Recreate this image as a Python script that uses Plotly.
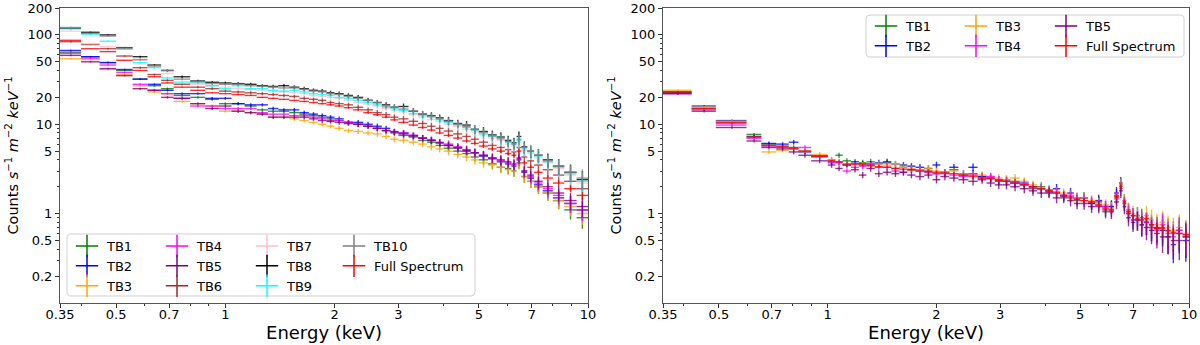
import plotly.graph_objects as go
from plotly.subplots import make_subplots

# ---- left panel: TB1..TB10 + full spectrum ----
edges_left = [0.35, 0.40, 0.45, 0.50, 0.555, 0.61, 0.665, 0.72, 0.80, 0.88, 0.96, 1.04, 1.13,
              1.22, 1.31, 1.40, 1.50, 1.60, 1.70, 1.80, 1.90, 2.00, 2.12, 2.25, 2.40, 2.55,
              2.70, 2.85, 3.00, 3.20, 3.40, 3.60, 3.80, 4.00, 4.25, 4.50, 4.75, 5.00, 5.30,
              5.60, 5.90, 6.15, 6.35, 6.55, 6.80, 7.10, 7.50, 8.00, 8.60, 9.30, 10.0]

tb1_left = [64, 57, 49, 40, 32, 27, 25, 21, 20, 19, 17, 17, 16, 14.5, 14, 14, 13.5, 13, 12.5, 12,
            11.5, 11, 10.5, 10, 9.5, 9, 8.5, 8, 7.5, 7.2, 6.6, 6.3, 5.8, 5.4, 5, 4.7, 4.3, 4.0,
            3.6, 3.3, 3.2, 3.0, 3.7, 2.6, 2.3, 2.0, 1.7, 1.4, 1.1, 0.9]
tb2_left = [67, 57, 49, 41, 32, 28, 24, 22, 22, 19.5, 19.5, 17, 16.5, 16.5, 15, 14.5, 14.5, 13.5,
            13, 12.5, 12, 11.5, 10.5, 10.5, 10, 9.5, 9, 8.3, 8, 7.5, 7, 6.6, 6.2, 5.8, 5.5, 5.0,
            4.8, 4.4, 4.1, 3.8, 3.6, 3.4, 4.0, 2.9, 2.5, 2.1, 1.8, 1.5, 1.3, 1.1]
tb3_left = [54, 53, 41, 36, 27, 23, 22, 18, 17, 16, 14, 14, 13.5, 13, 12, 12, 11.5, 11, 10.5, 10,
            9.5, 9, 8.5, 8.3, 8, 7.8, 7.3, 6.8, 6.6, 6.3, 6, 5.6, 5.3, 5, 4.6, 4.3, 4, 3.7, 3.5,
            3.3, 3.1, 3.0, 3.6, 2.6, 2.3, 2.0, 1.7, 1.4, 1.2, 1.0]
tb4_left = [62, 55, 46, 38, 28, 24, 22, 19.5, 16, 16, 15, 15, 15, 13.5, 13, 13, 12.5, 12.5, 12,
            11.5, 11, 11, 10.5, 10, 9.5, 9, 8.5, 8.2, 8, 7.5, 7, 6.7, 6.3, 6, 5.6, 5.2, 4.8, 4.5,
            4.2, 3.9, 3.7, 3.5, 4.1, 3.0, 2.6, 2.2, 1.9, 1.6, 1.3, 1.1]
tb5_left = [59, 50, 42, 35, 25, 24, 20, 19.5, 17, 15, 16, 14, 13.5, 13, 12, 12, 12, 12, 11.5, 11,
            10.8, 10.5, 10.2, 10, 9.5, 9, 8.5, 8.2, 7.8, 7.4, 7, 6.6, 6.2, 5.8, 5.4, 5.1, 4.8,
            4.5, 4.2, 4, 3.8, 3.6, 4.2, 3.0, 2.7, 2.3, 2.0, 1.7, 1.4, 1.2]
tb6_left = [84, 78, 70, 58, 43, 36, 31, 28, 26, 25, 23.5, 23, 22.5, 22, 21.5, 21, 20.5, 19.5, 19,
            18.5, 17.5, 17, 16.5, 15.5, 14.5, 13.5, 12.8, 12, 11.5, 10.8, 10.2, 9.5, 9, 8.4,
            7.8, 7.3, 6.8, 6.3, 5.8, 5.5, 5.2, 4.9, 5.5, 4.3, 3.9, 3.5, 3.1, 2.7, 2.3, 1.9]
tb7_left = [110, 80, 74, 70, 52, 44, 37, 30, 28, 27, 26, 25, 24.5, 24, 23.5, 23, 22.5, 22, 21,
            20.5, 20, 19.5, 18.5, 17.5, 16.8, 16, 15, 14.3, 13.8, 12.8, 12, 11.3, 10.7, 10, 9.5,
            8.8, 8.2, 7.6, 7, 6.6, 6, 5.7, 6.3, 5.1, 4.7, 4.2, 3.7, 3.2, 2.7, 2.2]
tb8_left = [118, 107, 100, 72, 57, 46, 40, 34, 30.5, 29.5, 29, 28.5, 28, 27, 26.5, 27, 26, 25,
            24, 23.5, 22.5, 22, 21, 20, 18.5, 17.5, 16.5, 15.5, 15.8, 14, 13, 12.5, 11.8, 11,
            10.2, 9.8, 8.8, 8.3, 7.6, 7.2, 6.6, 6.2, 7.3, 5.6, 5.0, 4.5, 4.0, 3.4, 2.9, 2.4]
tb9_left = [120, 102, 85, 69, 49, 43, 33, 29, 29, 27, 25, 27, 25, 25, 24, 23.5, 24, 23, 22, 21.5,
            21, 20, 19.5, 18.5, 17.5, 16.5, 15.5, 15, 14.3, 13.2, 12.5, 12, 11.2, 10.5, 9.8, 9.2,
            8.6, 7.8, 7.3, 6.8, 6.3, 5.9, 6.6, 5.3, 4.9, 4.4, 3.8, 3.3, 2.8, 2.3]
tb10_left = [121, 104, 97, 71, 53, 45, 40, 32, 30, 28.5, 28, 28, 27, 26.5, 26, 25.5, 25.5, 24.5,
             23.5, 23, 22, 21.5, 20.5, 19.5, 18.5, 17.5, 16, 15.5, 14.8, 14, 13, 12.3, 11.5,
             10.8, 10, 9.4, 8.7, 8.1, 7.4, 7, 6.4, 6.0, 6.8, 5.5, 5.0, 4.5, 3.9, 3.4, 2.9, 2.5]
full_left = [87, 70, 65, 52, 40, 34, 29, 26, 24, 22.5, 22, 21.5, 21, 20, 19.5, 19, 18.5, 18,
             17.5, 17, 16.5, 16, 15.3, 14.5, 13.5, 12.8, 12, 11.2, 10.5, 9.8, 9.2, 8.6, 8, 7.5,
             7, 6.5, 6.1, 5.7, 5.3, 5.0, 4.7, 4.5, 5.0, 3.7, 3.3, 2.9, 2.5, 2.2, 1.9, 1.6]
# relative 1-sigma errors per bin
rel_err_left = [0.02, 0.02, 0.02, 0.02, 0.025, 0.025, 0.03, 0.03, 0.03, 0.035, 0.035, 0.04, 0.04,
                0.04, 0.045, 0.045, 0.05, 0.05, 0.05, 0.055, 0.055, 0.06, 0.06, 0.065, 0.065,
                0.07, 0.07, 0.075, 0.08, 0.08, 0.085, 0.09, 0.09, 0.1, 0.1, 0.11, 0.11, 0.12,
                0.12, 0.13, 0.13, 0.14, 0.14, 0.15, 0.16, 0.17, 0.18, 0.2, 0.22, 0.25]

# ---- right panel: TB1..TB5 + full spectrum ----
edges_right = [0.35, 0.42, 0.49, 0.596, 0.655, 0.72, 0.78, 0.83, 0.90, 1.0, 1.05, 1.1, 1.16, 1.22,
               1.28, 1.35, 1.42, 1.5, 1.58, 1.66, 1.75, 1.85, 1.95, 2.05, 2.17, 2.3, 2.45, 2.6,
               2.75, 2.9, 3.05, 3.2, 3.4, 3.6, 3.8, 4.0, 4.2, 4.4, 4.6, 4.8, 5.0, 5.25, 5.5,
               5.75, 6.0, 6.2, 6.4, 6.55, 6.7, 6.9, 7.1, 7.3, 7.5, 7.75, 8.0, 8.3, 8.6, 8.9, 9.2,
               9.6, 10.0]

tb1_right = [22.5, 15, 10.3, 7.7, 6.0, 5.7, 5.5, 5.0, 4.4, 4.0, 4.5, 3.9, 3.6, 3.7, 3.8, 3.6,
             3.7, 3.2, 3.3, 3.1, 3.1, 3.0, 2.8, 2.9, 3.1, 2.7, 2.8, 2.6, 2.5, 2.3, 2.4, 2.3, 2.1,
             1.9, 2.0, 1.8, 1.75, 1.5, 1.6, 1.4, 1.5, 1.3, 1.35, 1.05, 1.2, 1.6, 2.1, 1.3, 1.1,
             0.95, 0.85, 0.9, 0.8, 0.75, 0.68, 0.7, 0.65, 0.6, 0.65, 0.55]
tb2_right = [23, 16, 11, 7.3, 6.1, 6.0, 6.3, 4.9, 4.4, 3.8, 3.8, 3.6, 3.8, 3.6, 3.6, 3.7, 3.8,
             3.6, 3.5, 3.4, 3.3, 3.2, 3.5, 2.9, 3.3, 2.8, 3.3, 2.6, 2.5, 2.4, 2.3, 2.2, 2.2, 2.0,
             1.9, 1.7, 1.9, 1.6, 1.7, 1.5, 1.5, 1.3, 1.4, 1.2, 1.2, 1.7, 2.2, 1.4, 1.0, 0.85,
             0.95, 0.75, 0.8, 0.7, 0.7, 0.65, 0.55, 0.45, 0.6, 0.5]
tb3_right = [24, 15.5, 10.8, 7.0, 4.9, 5.1, 5.3, 5.0, 4.6, 4.0, 3.8, 3.6, 3.5, 3.5, 3.4, 3.6,
             3.5, 3.6, 3.3, 3.2, 3.1, 3.2, 3.0, 2.9, 3.0, 2.8, 2.7, 2.7, 2.6, 2.5, 2.4, 2.5, 2.3,
             2.1, 1.95, 1.8, 1.75, 1.7, 1.6, 1.5, 1.5, 1.4, 1.3, 1.25, 1.15, 1.45, 2.1, 1.4, 1.1,
             1.0, 0.95, 0.85, 0.95, 0.85, 0.75, 0.8, 0.7, 0.65, 0.7, 0.6]
tb4_right = [22, 14.5, 9.8, 7.0, 5.7, 5.5, 5.3, 5.5, 4.3, 3.7, 3.7, 3.0, 3.3, 3.4, 3.5, 3.3,
             3.3, 3.0, 2.9, 3.1, 3.0, 2.9, 2.8, 2.8, 2.7, 2.6, 2.7, 2.5, 2.6, 2.4, 2.3, 2.2, 2.1,
             1.95, 1.9, 1.85, 1.7, 1.6, 1.55, 1.45, 1.4, 1.35, 1.25, 1.2, 1.1, 1.5, 1.9, 1.3,
             1.05, 0.95, 0.85, 0.85, 0.8, 0.7, 0.65, 0.75, 0.6, 0.55, 0.65, 0.58]
tb5_right = [22, 14, 9.2, 6.5, 5.5, 5.3, 4.9, 4.5, 3.9, 3.5, 3.2, 3.5, 3.1, 2.7, 3.2, 2.8, 2.9,
             2.8, 2.9, 2.7, 2.6, 2.7, 2.4, 2.6, 2.5, 2.4, 2.3, 2.4, 2.2, 2.1, 2.1, 2.0, 1.9, 1.8,
             1.7, 1.75, 1.5, 1.55, 1.4, 1.3, 1.3, 1.2, 1.2, 1.1, 1.05, 1.35, 1.8, 1.2, 0.9, 0.8,
             0.85, 0.75, 0.7, 0.65, 0.6, 0.55, 0.55, 0.5, 0.5, 0.55]
full_right = [23, 15, 10.5, 7.2, 5.8, 5.6, 5.4, 5.0, 4.4, 3.9, 3.8, 3.5, 3.6, 3.5, 3.45, 3.35,
              3.3, 3.2, 3.15, 3.1, 3.0, 2.95, 2.9, 2.85, 2.8, 2.7, 2.6, 2.5, 2.45, 2.35, 2.3, 2.2,
              2.1, 2.0, 1.9, 1.8, 1.7, 1.6, 1.5, 1.45, 1.4, 1.35, 1.25, 1.15, 1.1, 1.55, 2.0,
              1.35, 1.05, 0.95, 0.88, 0.85, 0.88, 0.75, 0.68, 0.68, 0.64, 0.62, 0.6, 0.58]
rel_err_right = [0.03, 0.03, 0.03, 0.04, 0.05, 0.05, 0.06, 0.06, 0.06, 0.07, 0.07, 0.07, 0.07,
                 0.08, 0.08, 0.08, 0.08, 0.08, 0.08, 0.08, 0.09, 0.09, 0.09, 0.09, 0.09, 0.1, 0.1,
                 0.1, 0.1, 0.1, 0.11, 0.11, 0.11, 0.12, 0.12, 0.12, 0.13, 0.13, 0.14, 0.14, 0.15,
                 0.15, 0.16, 0.16, 0.17, 0.17, 0.17, 0.18, 0.2, 0.22, 0.24, 0.26, 0.28, 0.3, 0.32,
                 0.34, 0.36, 0.38, 0.4, 0.42]

colors = {'TB1': '#008000', 'TB2': '#0000ff', 'TB3': '#ffa500', 'TB4': '#ff00ff',
          'TB5': '#800080', 'TB6': '#a52a2a', 'TB7': '#ffc0cb', 'TB8': '#000000',
          'TB9': '#00ffff', 'TB10': '#808080', 'Full Spectrum': '#ff0000'}

left_series = [('TB1', tb1_left), ('TB2', tb2_left), ('TB3', tb3_left), ('TB4', tb4_left),
               ('TB5', tb5_left), ('TB6', tb6_left), ('TB7', tb7_left), ('TB8', tb8_left),
               ('TB9', tb9_left), ('TB10', tb10_left), ('Full Spectrum', full_left)]
right_series = [('TB1', tb1_right), ('TB2', tb2_right), ('TB3', tb3_right), ('TB4', tb4_right),
                ('TB5', tb5_right), ('Full Spectrum', full_right)]

# which legend column each entry goes into
left_legend = {'TB1': 'legend', 'TB2': 'legend', 'TB3': 'legend',
               'TB4': 'legend2', 'TB5': 'legend2', 'TB6': 'legend2',
               'TB7': 'legend3', 'TB8': 'legend3', 'TB9': 'legend3',
               'TB10': 'legend4', 'Full Spectrum': 'legend4'}
right_legend = {'TB1': 'legend5', 'TB2': 'legend5', 'TB3': 'legend6', 'TB4': 'legend6',
                'TB5': 'legend7', 'Full Spectrum': 'legend7'}

W, H = 1200, 345


def rgba(hex_color, a):
    h = hex_color.lstrip('#')
    return 'rgba(%d,%d,%d,%.2f)' % (int(h[0:2], 16), int(h[2:4], 16), int(h[4:6], 16), a)


def add_spectrum(fig, edges, vals, rel_err, name, col, legend, err_scale=1.0):
    lo = edges[:-1]
    hi = edges[1:]
    xc = [(a + b) / 2 for a, b in zip(lo, hi)]
    c = rgba(colors[name], 0.8)
    fig.add_trace(go.Scatter(
        x=xc, y=vals, mode='markers',
        marker=dict(size=1, color=colors[name], opacity=0),
        error_x=dict(type='data', symmetric=False,
                     array=[b - x for b, x in zip(hi, xc)],
                     arrayminus=[x - a for a, x in zip(lo, xc)],
                     color=c, thickness=1.4, width=0),
        error_y=dict(type='data', array=[v * e * err_scale for v, e in zip(vals, rel_err)],
                     color=c, thickness=1.4, width=0),
        showlegend=False, hoverinfo='skip'), row=1, col=col)
    # legend entry shown as a "+" like matplotlib's errorbar handle
    fig.add_trace(go.Scatter(
        x=[None], y=[None], mode='markers', name=name, legend=legend,
        marker=dict(symbol='cross-thin', size=16, color=colors[name],
                    line=dict(width=1.5, color=colors[name]))), row=1, col=col)


fig = make_subplots(rows=1, cols=2)

for name, vals in left_series:
    add_spectrum(fig, edges_left, vals, rel_err_left, name, 1, left_legend[name],
                 0.4 if name == 'Full Spectrum' else 1.0)
for name, vals in right_series:
    add_spectrum(fig, edges_right, vals, rel_err_right, name, 2, right_legend[name],
                 0.35 if name == 'Full Spectrum' else 1.0)

x_ticks = [0.35, 0.5, 0.7, 1, 2, 3, 5, 7, 10]
x_minor = [0.4, 0.6, 0.8, 0.9, 4, 6, 8, 9]
y_ticks = [0.2, 0.5, 1, 5, 10, 20, 50, 100, 200]
y_minor = [0.3, 0.4, 0.6, 0.7, 0.8, 0.9, 2, 3, 4, 6, 7, 8, 9, 30, 40, 60, 70, 80, 90]

font = 'DejaVu Sans'
axis_common = dict(type='log', showgrid=False, zeroline=False, showline=True, mirror=True,
                   linecolor='#555555', linewidth=1, ticks='outside', ticklen=4,
                   tickcolor='#333333', tickfont=dict(family=font, size=13, color='black'),
                   automargin=False)

for i, dom in ((1, [60 / W, 588 / W]), (2, [663 / W, 1189 / W])):
    fig.update_xaxes(axis_common, row=1, col=i, domain=dom,
                     range=[-0.45593, 1.0], tickvals=x_ticks,
                     ticktext=[str(t) for t in x_ticks], ticklabelstandoff=-5,
                     minor=dict(tickvals=x_minor, ticks='outside', ticklen=2,
                                tickcolor='#333333'),
                     title=dict(text='Energy (keV)', font=dict(family=font, size=18,
                                                               color='black'), standoff=2))
    fig.update_yaxes(axis_common, row=1, col=i, domain=[1 - 303 / H, 1 - 8 / H],
                     range=[-1.0, 2.30103], tickvals=y_ticks,
                     ticktext=[str(t) for t in y_ticks],
                     minor=dict(tickvals=y_minor, ticks='outside', ticklen=2,
                                tickcolor='#333333'),
                     title=dict(text='Counts <i>s</i><sup>−1</sup> <i>m</i><sup>−2</sup> '
                                     '<i>keV</i><sup>−1</sup>',
                                font=dict(family=font, size=14.5, color='black'), standoff=5))


def legend_at(px, py):
    return dict(x=px / W, y=1 - py / H, xanchor='left', yanchor='top',
                bgcolor='rgba(0,0,0,0)', font=dict(family=font, size=13, color='black'),
                tracegroupgap=0, itemwidth=30)


def round_box(x0, y0, x1, y1, r=4):
    # rounded rectangle in pixel units, converted to paper coords
    def p(x, y):
        return '%.5f,%.5f' % (x / W, 1 - y / H)
    path = ('M ' + p(x0 + r, y0) + ' L ' + p(x1 - r, y0) + ' Q ' + p(x1, y0) + ' ' + p(x1, y0 + r)
            + ' L ' + p(x1, y1 - r) + ' Q ' + p(x1, y1) + ' ' + p(x1 - r, y1)
            + ' L ' + p(x0 + r, y1) + ' Q ' + p(x0, y1) + ' ' + p(x0, y1 - r)
            + ' L ' + p(x0, y0 + r) + ' Q ' + p(x0, y0) + ' ' + p(x0 + r, y0) + ' Z')
    return dict(type='path', xref='paper', yref='paper', path=path,
                fillcolor='rgba(255,255,255,0.8)', line=dict(color='#d0d0d0', width=1),
                layer='above')


fig.update_layout(
    width=W, height=H,
    margin=dict(l=0, r=0, t=0, b=0),
    paper_bgcolor='white', plot_bgcolor='white',
    font=dict(family=font, color='black'),
    legend=legend_at(67, 231),
    legend2=legend_at(157, 231),
    legend3=legend_at(247, 231),
    legend4=legend_at(334, 231),
    legend5=legend_at(866, 11),
    legend6=legend_at(956, 11),
    legend7=legend_at(1046, 11),
    shapes=[round_box(67, 234, 475, 296), round_box(866, 15, 1184, 57)],
)

# the page body has an 8px default margin; drop it so the figure sits at the window corner
fig.write_html("out.html", config={'displayModeBar': False},
               post_script="document.body.style.margin='0';")
